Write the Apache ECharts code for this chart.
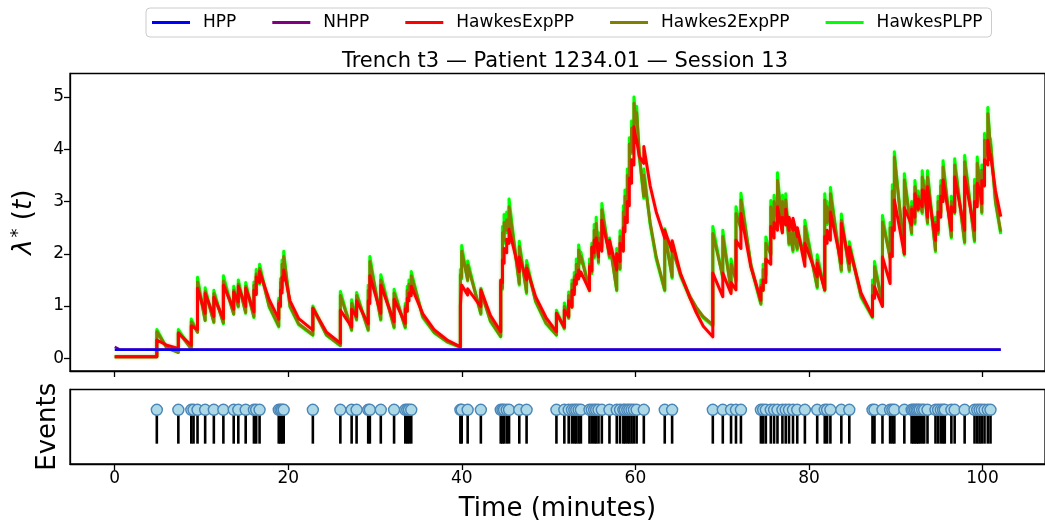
<!DOCTYPE html>
<html>
<head>
<meta charset="utf-8">
<script src="https://cdn.jsdelivr.net/npm/echarts@6/dist/echarts.min.js"></script>
<style>
  html, body { margin: 0; padding: 0; background: #ffffff; }
  #chart { width: 1045px; height: 527px; }
</style>
</head>
<body>
<div id="chart"></div>
<script>
// ---- data -------------------------------------------------------------
const seriesNames = ['HPP', 'NHPP', 'HawkesExpPP', 'Hawkes2ExpPP', 'HawkesPLPP'];
const timeTicks = [0, 20, 40, 60, 80, 100];
const lambdaTicks = [0, 1, 2, 3, 4, 5];

// event times (minutes)
const eventTimes = [
  4.85, 7.33, 8.82, 9.08, 9.54, 10.42, 11.42, 12.52, 13.71, 14.24, 15.09, 16.04, 16.30, 16.69,
  18.90, 19.10, 19.28, 19.47, 22.83, 26.00, 27.30, 27.87, 29.21, 29.40, 30.66, 32.19, 33.48,
  33.71, 33.91, 34.17, 39.83, 39.98, 40.67, 42.19, 44.48, 44.68, 44.87, 45.17, 45.44, 46.62,
  47.46, 50.90, 51.81, 52.31, 52.69, 52.96, 53.19, 53.46, 53.72, 54.71, 54.98, 55.25, 55.48,
  55.75, 56.13, 57.01, 57.85, 58.23, 58.61, 58.80, 59.07, 59.30, 59.56, 59.83, 60.14, 60.97,
  63.38, 64.23, 68.92, 70.07, 71.02, 71.59, 72.16, 74.46, 74.72, 75.03, 75.60, 75.98, 76.37,
  76.94, 77.32, 77.70, 78.16, 78.65, 79.53, 80.95, 81.82, 82.09, 82.47, 83.73, 84.65, 87.32,
  87.55, 88.47, 89.35, 89.61, 89.84, 90.99, 91.83, 92.02, 92.21, 92.40, 92.59, 92.78, 93.05,
  93.28, 93.66, 94.58, 94.88, 95.19, 95.45, 95.65, 96.41, 96.79, 97.94, 99.08, 99.39, 99.66,
  99.92, 100.23, 100.61, 100.92
];

// conditional intensity, [time, lambda*]
const hppPts = [[0, 0.165], [102.1, 0.165]];
const nhppPts = [[0, 0.22], [0.5, 0.175], [102.1, 0.168]];

const hawkesExpPts = [
  [0,0.03],[4.85,0.03],[4.85,0.35],[6.0,0.25],[7.33,0.19],[7.33,0.48],[8.82,0.25],[8.82,0.62],
  [9.54,0.55],[9.54,1.34],[10.42,0.86],[10.42,1.24],[11.42,0.80],[11.42,1.17],[12.52,0.76],[12.52,1.40],
  [13.71,0.94],[13.71,1.27],[14.24,1.08],[14.24,1.38],[15.09,0.99],[15.09,1.34],[16.04,0.89],[16.04,1.30],
  [16.30,1.22],[16.30,1.56],[16.69,1.45],[16.69,1.66],[17.8,1.12],[18.9,0.75],[18.9,1.05],[19.1,1.0],
  [19.1,1.3],[19.28,1.25],[19.28,1.55],[19.47,1.5],[19.47,1.69],[20.2,1.10],[21.2,0.76],[22.83,0.54],
  [22.83,0.96],[24.4,0.50],[26.0,0.29],[26.0,0.92],[27.3,0.60],[27.3,0.94],[27.87,0.80],[27.87,1.10],
  [29.21,0.66],[29.21,1.10],[29.4,1.05],[29.4,1.58],[30.66,0.86],[30.66,1.40],[32.19,0.70],[32.19,1.13],
  [33.48,0.67],[33.48,0.95],[33.71,0.90],[33.71,1.15],[33.91,1.10],[33.91,1.25],[34.17,1.20],[34.17,1.38],
  [35.5,0.85],[36.8,0.55],[38.3,0.35],[39.83,0.22],[39.83,1.0],[39.98,0.98],[39.98,1.40],[40.67,1.21],
  [40.67,1.33],[42.19,0.99],[42.19,1.31],[43.3,0.82],[44.48,0.51],[44.48,1.50],[44.68,1.45],[44.68,1.88],
  [44.87,1.82],[44.87,2.10],[45.17,2.02],[45.17,2.28],[45.44,2.2],[45.44,2.47],[46.62,1.66],[46.62,1.94],
  [47.46,1.50],[47.46,1.73],[48.5,1.18],[49.7,0.78],[50.9,0.51],[50.9,0.86],[51.81,0.60],[51.81,0.92],
  [52.31,0.80],[52.31,1.10],[52.69,0.98],[52.69,1.30],[52.96,1.22],[52.96,1.50],[53.19,1.42],[53.19,1.60],
  [53.46,1.52],[53.46,1.69],[53.72,1.58],[53.72,1.65],[54.71,1.30],[54.71,1.75],[54.98,1.68],[54.98,2.13],
  [55.25,2.02],[55.25,2.26],[55.48,2.15],[55.48,2.30],[55.75,1.94],[55.75,2.20],[56.13,2.05],[56.13,2.64],
  [57.01,2.0],[57.01,2.26],[57.85,1.69],[57.85,2.0],[58.23,1.85],[58.23,2.2],[58.61,2.05],[58.61,2.5],
  [58.80,2.42],[58.80,2.7],[59.07,2.6],[59.07,3.0],[59.30,2.92],[59.30,3.45],[59.56,3.35],[59.56,3.8],
  [59.83,3.7],[59.83,4.43],[60.14,4.12],[60.14,4.18],[60.45,3.86],[60.97,3.73],[60.97,4.05],[61.7,3.3],
  [62.4,2.8],[63.38,2.3],[63.38,2.45],[64.23,2.05],[64.23,2.25],[65.2,1.62],[66.3,1.15],[67.0,0.88],
  [67.8,0.62],[68.92,0.41],[68.92,1.63],[70.07,1.18],[70.07,1.63],[71.02,1.24],[71.02,1.45],[71.59,1.31],
  [71.59,2.26],[72.16,2.1],[72.16,2.77],[73.3,1.75],[74.46,1.11],[74.46,1.35],[74.72,1.3],[74.72,1.5],
  [75.03,1.45],[75.03,1.9],[75.60,1.8],[75.60,2.52],[75.98,2.3],[75.98,2.6],[76.37,2.45],[76.37,2.9],
  [76.94,2.4],[76.94,2.7],[77.32,2.55],[77.32,2.85],[77.70,2.45],[77.70,2.7],[78.16,2.45],[78.16,2.68],
  [78.65,2.33],[78.65,2.5],[79.53,1.76],[79.53,2.2],[80.95,1.56],[80.95,1.82],[81.82,1.31],[81.82,2.33],
  [82.09,2.2],[82.09,2.45],[82.47,2.26],[82.47,2.8],[83.73,1.82],[83.73,2.58],[84.65,1.82],[84.65,2.13],
  [86.0,1.25],[87.32,0.80],[87.32,1.2],[87.55,1.15],[87.55,1.37],[88.47,0.99],[88.47,1.94],[89.35,1.43],
  [89.35,2.0],[89.61,1.95],[89.61,2.5],[89.84,2.45],[89.84,3.03],[90.99,2.0],[90.99,2.88],[91.83,2.55],
  [91.83,2.85],[92.21,2.7],[92.21,3.15],[92.59,2.85],[92.59,3.05],[93.05,2.9],[93.05,3.22],[93.28,3.1],
  [93.28,3.2],[93.66,2.7],[93.66,3.28],[94.58,2.26],[94.58,2.55],[94.88,2.45],[94.88,2.8],[95.19,2.7],
  [95.19,3.1],[95.45,3.0],[95.45,3.41],[96.41,2.45],[96.41,2.9],[96.79,2.8],[96.79,3.47],[97.94,2.45],
  [97.94,3.47],[99.08,2.45],[99.08,3.0],[99.39,2.9],[99.39,3.35],[99.66,3.2],[99.66,3.25],[99.92,2.96],
  [99.92,3.4],[100.23,3.3],[100.23,3.8],[100.61,3.7],[100.61,4.17],[100.92,3.8],[100.92,3.9],[101.5,3.2],
  [102.1,2.71]
];

const hawkes2ExpPts = [
  [0,0.03],[4.85,0.03],[4.85,0.51],[6.0,0.2],[7.33,0.11],[7.33,0.50],[8.82,0.18],[8.82,0.70],
  [9.54,0.5],[9.54,1.46],[10.42,0.73],[10.42,1.28],[11.42,0.70],[11.42,1.24],[12.52,0.68],[12.52,1.48],
  [13.71,0.85],[13.71,1.30],[14.24,1.0],[14.24,1.42],[15.09,0.88],[15.09,1.38],[16.04,0.80],[16.04,1.40],
  [16.30,1.25],[16.30,1.62],[16.69,1.45],[16.69,1.72],[17.8,1.0],[18.9,0.62],[18.9,1.1],[19.1,1.0],
  [19.1,1.45],[19.28,1.35],[19.28,1.8],[19.47,1.7],[19.47,1.95],[20.2,1.0],[21.2,0.66],[22.83,0.45],
  [22.83,0.95],[24.4,0.45],[26.0,0.25],[26.0,1.2],[27.3,0.55],[27.3,1.05],[27.87,0.75],[27.87,1.2],
  [29.21,0.55],[29.21,1.3],[29.4,1.2],[29.4,1.85],[30.66,0.75],[30.66,1.5],[32.19,0.60],[32.19,1.25],
  [33.48,0.60],[33.48,1.0],[33.71,0.92],[33.71,1.3],[33.91,1.22],[33.91,1.42],[34.17,1.32],[34.17,1.58],
  [35.5,0.8],[36.8,0.5],[38.3,0.32],[39.83,0.22],[39.83,1.6],[39.98,1.55],[39.98,2.05],[40.67,1.50],
  [40.67,1.78],[42.19,0.86],[42.19,1.27],[43.3,0.72],[44.48,0.42],[44.48,1.4],[44.68,1.35],[44.68,2.4],
  [44.87,2.25],[44.87,2.6],[45.17,2.45],[45.17,2.65],[45.44,2.5],[45.44,2.9],[46.62,1.43],[46.62,2.14],
  [47.46,1.27],[47.46,1.78],[48.5,1.1],[49.7,0.68],[50.9,0.45],[50.9,0.86],[51.81,0.58],[51.81,0.99],
  [52.31,0.78],[52.31,1.2],[52.69,1.0],[52.69,1.42],[52.96,1.3],[52.96,1.56],[53.19,1.45],[53.19,1.8],
  [53.46,1.68],[53.46,2.07],[53.72,1.85],[53.72,1.95],[54.71,1.31],[54.71,1.8],[54.98,1.65],[54.98,2.1],
  [55.25,1.95],[55.25,2.45],[55.48,2.3],[55.48,2.58],[55.75,1.85],[55.75,2.3],[56.13,2.15],[56.13,2.84],
  [57.01,1.95],[57.01,2.2],[57.85,1.31],[57.85,2.0],[58.23,1.72],[58.23,2.33],[58.61,2.1],[58.61,2.8],
  [58.80,2.65],[58.80,3.1],[59.07,2.95],[59.07,3.5],[59.30,3.35],[59.30,4.1],[59.56,3.95],[59.56,4.4],
  [59.83,4.25],[59.83,4.88],[60.14,4.5],[60.14,4.7],[60.45,3.9],[60.97,3.1],[60.97,3.5],[61.7,2.6],
  [62.4,1.94],[63.38,1.31],[63.38,2.36],[64.23,1.56],[64.23,2.10],[65.2,1.6],[66.3,1.18],[67.0,0.98],
  [67.8,0.80],[68.92,0.64],[68.92,2.39],[70.07,1.56],[70.07,2.33],[71.02,1.31],[71.02,1.8],[71.59,1.5],
  [71.59,2.77],[72.16,2.5],[72.16,3.03],[73.3,1.8],[74.46,1.05],[74.46,1.4],[74.72,1.32],[74.72,1.7],
  [75.03,1.6],[75.03,2.2],[75.60,2.0],[75.60,2.9],[75.98,2.5],[75.98,3.0],[76.37,2.7],[76.37,3.4],
  [76.94,2.45],[76.94,3.0],[77.32,2.6],[77.32,3.03],[77.70,2.2],[77.70,2.5],[78.16,2.07],[78.16,2.4],
  [78.65,2.1],[78.65,2.38],[79.53,1.94],[79.53,2.52],[80.95,1.37],[80.95,1.88],[81.82,1.31],[81.82,3.03],
  [82.09,2.6],[82.09,2.9],[82.47,2.6],[82.47,3.15],[83.73,1.69],[83.73,2.64],[84.65,1.69],[84.65,2.13],
  [86.0,1.2],[87.32,0.80],[87.32,1.4],[87.55,1.3],[87.55,1.75],[88.47,1.05],[88.47,2.61],[89.35,1.94],
  [89.35,2.5],[89.61,2.35],[89.61,3.2],[89.84,3.05],[89.84,3.85],[90.99,2.0],[90.99,3.41],[91.83,2.4],
  [91.83,2.9],[92.21,2.6],[92.21,3.28],[92.59,2.85],[92.59,3.1],[93.05,2.8],[93.05,3.47],[93.28,3.2],
  [93.28,3.3],[93.66,2.6],[93.66,3.47],[94.58,2.07],[94.58,2.6],[94.88,2.4],[94.88,3.0],[95.19,2.8],
  [95.19,3.3],[95.45,3.1],[95.45,3.66],[96.41,2.33],[96.41,3.0],[96.79,2.8],[96.79,3.7],[97.94,2.23],
  [97.94,3.76],[99.08,2.26],[99.08,3.3],[99.39,3.0],[99.39,3.73],[99.66,3.4],[99.66,3.5],[99.92,2.8],
  [99.92,3.6],[100.23,3.4],[100.23,4.17],[100.61,3.9],[100.61,4.68],[100.92,4.0],[100.92,4.1],[101.5,3.0],
  [102.1,2.42]
];

const hawkesPLPts = [
  [0,0.03],[4.85,0.03],[4.85,0.55],[6.0,0.2],[7.33,0.12],[7.33,0.55],[8.82,0.18],[8.82,0.75],
  [9.54,0.5],[9.54,1.55],[10.42,0.72],[10.42,1.35],[11.42,0.68],[11.42,1.3],[12.52,0.66],[12.52,1.58],
  [13.71,0.84],[13.71,1.38],[14.24,0.98],[14.24,1.5],[15.09,0.86],[15.09,1.45],[16.04,0.78],[16.04,1.46],
  [16.30,1.22],[16.30,1.7],[16.69,1.42],[16.69,1.8],[17.8,0.98],[18.9,0.6],[18.9,1.15],[19.1,0.98],
  [19.1,1.52],[19.28,1.32],[19.28,1.88],[19.47,1.66],[19.47,2.05],[20.2,0.98],[21.2,0.64],[22.83,0.44],
  [22.83,1.0],[24.4,0.44],[26.0,0.24],[26.0,1.28],[27.3,0.53],[27.3,1.12],[27.87,0.73],[27.87,1.26],
  [29.21,0.53],[29.21,1.4],[29.4,1.18],[29.4,1.95],[30.66,0.73],[30.66,1.6],[32.19,0.58],[32.19,1.32],
  [33.48,0.58],[33.48,1.05],[33.71,0.9],[33.71,1.38],[33.91,1.2],[33.91,1.5],[34.17,1.3],[34.17,1.66],
  [35.5,0.78],[36.8,0.49],[38.3,0.31],[39.83,0.21],[39.83,1.7],[39.98,1.52],[39.98,2.16],[40.67,1.48],
  [40.67,1.86],[42.19,0.84],[42.19,1.34],[43.3,0.7],[44.48,0.41],[44.48,1.48],[44.68,1.32],[44.68,2.52],
  [44.87,2.2],[44.87,2.75],[45.17,2.4],[45.17,2.8],[45.44,2.45],[45.44,3.05],[46.62,1.4],[46.62,2.24],
  [47.46,1.24],[47.46,1.87],[48.5,1.08],[49.7,0.66],[50.9,0.44],[50.9,0.92],[51.81,0.56],[51.81,1.06],
  [52.31,0.76],[52.31,1.27],[52.69,0.98],[52.69,1.5],[52.96,1.28],[52.96,1.64],[53.19,1.42],[53.19,1.9],
  [53.46,1.65],[53.46,2.17],[53.72,1.82],[53.72,2.03],[54.71,1.29],[54.71,1.9],[54.98,1.62],[54.98,2.2],
  [55.25,1.92],[55.25,2.56],[55.48,2.26],[55.48,2.7],[55.75,1.82],[55.75,2.4],[56.13,2.12],[56.13,2.96],
  [57.01,1.92],[57.01,2.3],[57.85,1.29],[57.85,2.1],[58.23,1.7],[58.23,2.44],[58.61,2.07],[58.61,2.92],
  [58.80,2.62],[58.80,3.22],[59.07,2.92],[59.07,3.62],[59.30,3.32],[59.30,4.22],[59.56,3.92],[59.56,4.54],
  [59.83,4.2],[59.83,5.0],[60.14,4.45],[60.14,4.82],[60.45,3.86],[60.97,3.06],[60.97,3.62],[61.7,2.56],
  [62.4,1.9],[63.38,1.29],[63.38,2.48],[64.23,1.53],[64.23,2.22],[65.2,1.57],[66.3,1.15],[67.0,0.96],
  [67.8,0.78],[68.92,0.62],[68.92,2.52],[70.07,1.53],[70.07,2.45],[71.02,1.29],[71.02,1.9],[71.59,1.47],
  [71.59,2.9],[72.16,2.46],[72.16,3.16],[73.3,1.77],[74.46,1.03],[74.46,1.5],[74.72,1.3],[74.72,1.8],
  [75.03,1.58],[75.03,2.32],[75.60,1.97],[75.60,3.02],[75.98,2.47],[75.98,3.12],[76.37,2.66],[76.37,3.55],
  [76.94,2.42],[76.94,3.12],[77.32,2.56],[77.32,3.15],[77.70,2.17],[77.70,2.6],[78.16,2.04],[78.16,2.5],
  [78.65,2.07],[78.65,2.48],[79.53,1.91],[79.53,2.64],[80.95,1.34],[80.95,1.98],[81.82,1.29],[81.82,3.15],
  [82.09,2.56],[82.09,3.0],[82.47,2.56],[82.47,3.27],[83.73,1.66],[83.73,2.76],[84.65,1.66],[84.65,2.23],
  [86.0,1.17],[87.32,0.78],[87.32,1.5],[87.55,1.27],[87.55,1.85],[88.47,1.03],[88.47,2.73],[89.35,1.91],
  [89.35,2.6],[89.61,2.32],[89.61,3.32],[89.84,3.0],[89.84,3.95],[90.99,1.97],[90.99,3.53],[91.83,2.37],
  [91.83,3.0],[92.21,2.57],[92.21,3.4],[92.59,2.82],[92.59,3.2],[93.05,2.77],[93.05,3.59],[93.28,3.17],
  [93.28,3.4],[93.66,2.57],[93.66,3.59],[94.58,2.04],[94.58,2.7],[94.88,2.37],[94.88,3.1],[95.19,2.77],
  [95.19,3.4],[95.45,3.07],[95.45,3.78],[96.41,2.3],[96.41,3.1],[96.79,2.77],[96.79,3.82],[97.94,2.2],
  [97.94,3.88],[99.08,2.23],[99.08,3.42],[99.39,2.97],[99.39,3.85],[99.66,3.37],[99.66,3.6],[99.92,2.77],
  [99.92,3.7],[100.23,3.37],[100.23,4.3],[100.61,3.87],[100.61,4.8],[100.92,3.97],[100.92,4.2],[101.5,2.97],
  [102.1,2.38]
];

// ---- chart ------------------------------------------------------------
const FONT = 'DejaVu Sans';
const BLACK = '#000000';
const SPINE = { show: true, onZero: false, lineStyle: { color: BLACK, width: 1.3 } };

function curve(name, pts, color, width, z, glow) {
  return {
    name: name,
    type: 'line',
    xAxisIndex: 0,
    yAxisIndex: 0,
    data: pts,
    showSymbol: false,
    symbol: 'none',
    z: z,
    itemStyle: { color: color },
    lineStyle: Object.assign({ color: color, width: width, join: 'round' },
      glow ? { shadowColor: glow, shadowBlur: 3 } : {}),
    emphasis: { disabled: true }
  };
}

const chart = echarts.init(document.getElementById('chart'), null, { renderer: 'canvas' });

const option = {
  animation: false,
  backgroundColor: '#ffffff',
  textStyle: { fontFamily: FONT },
  title: {
    text: 'Trench t3 \u2014 Patient 1234.01 \u2014 Session 13',
    left: 560,
    textAlign: 'center',
    top: 46,
    textStyle: { fontFamily: FONT, fontSize: 21, fontWeight: 'normal', color: BLACK }
  },
  legend: {
    data: seriesNames,
    left: 146,
    top: 8,
    icon: 'rect',
    itemWidth: 38,
    itemHeight: 3,
    itemGap: 36,
    padding: [6, 9, 6, 6],
    borderColor: '#cccccc',
    borderWidth: 1,
    borderRadius: 4,
    backgroundColor: '#ffffff',
    textStyle: { fontFamily: FONT, fontSize: 17, color: BLACK, padding: [0, 0, 0, 8] }
  },
  grid: [
    { left: 70, top: 73.5, width: 981, height: 297.5, show: true, borderColor: BLACK, borderWidth: 1.3 },
    { left: 70, top: 389.5, width: 981, height: 74.5, show: true, borderColor: BLACK, borderWidth: 1.3 }
  ],
  xAxis: [
    {
      gridIndex: 0, type: 'value', min: -5.155, max: 107.2,
      axisLine: SPINE,
      axisTick: { show: true, length: 6, customValues: timeTicks, lineStyle: { color: BLACK, width: 1.3 } },
      axisLabel: { show: false },
      splitLine: { show: false }
    },
    {
      gridIndex: 1, type: 'value', min: -5.155, max: 107.2,
      axisLine: SPINE,
      axisTick: { show: true, length: 6, customValues: timeTicks, lineStyle: { color: BLACK, width: 1.3 } },
      axisLabel: { show: true, customValues: timeTicks, margin: 6, fontFamily: FONT, fontSize: 17, color: BLACK },
      splitLine: { show: false },
      name: 'Time (minutes)',
      nameLocation: 'middle',
      nameGap: 32,
      nameTextStyle: { fontFamily: FONT, fontSize: 26, color: BLACK }
    }
  ],
  yAxis: [
    {
      gridIndex: 0, type: 'value', min: -0.243, max: 5.449,
      axisLine: SPINE,
      axisTick: { show: true, length: 6, customValues: lambdaTicks, lineStyle: { color: BLACK, width: 1.3 } },
      axisLabel: { show: true, customValues: lambdaTicks, margin: 6, fontFamily: FONT, fontSize: 17, color: BLACK },
      splitLine: { show: false },
      name: '{g|\u03bb}{s|*}{p| (}{i|t}{p|)}',
      nameLocation: 'middle',
      nameRotate: 90,
      nameGap: 31,
      nameTextStyle: {
        fontFamily: FONT, fontSize: 26, color: BLACK,
        rich: {
          g: { fontFamily: FONT, fontSize: 26, fontStyle: 'italic', color: BLACK },
          s: { fontFamily: FONT, fontSize: 18, color: BLACK, verticalAlign: 'top', padding: [0, 0, 12, 2] },
          p: { fontFamily: FONT, fontSize: 26, color: BLACK },
          i: { fontFamily: FONT, fontSize: 26, fontStyle: 'italic', color: BLACK }
        }
      }
    },
    {
      gridIndex: 1, type: 'value', min: -0.6, max: 1.6,
      axisLine: SPINE,
      axisTick: { show: false },
      axisLabel: { show: false },
      splitLine: { show: false },
      name: 'Events',
      nameLocation: 'middle',
      nameRotate: 90,
      nameGap: 9,
      nameTextStyle: { fontFamily: FONT, fontSize: 26, color: BLACK }
    }
  ],
  series: [
    curve('HawkesPLPP', hawkesPLPts, '#00ff00', 3, 2, 'rgba(0,255,0,0.35)'),
    curve('Hawkes2ExpPP', hawkes2ExpPts, '#808000', 3, 3, null),
    curve('HawkesExpPP', hawkesExpPts, '#ff0000', 3, 4, 'rgba(255,0,0,0.25)'),
    curve('NHPP', nhppPts, '#800080', 2.5, 5, null),
    curve('HPP', hppPts, '#0000ff', 2.5, 6, null),
    {
      name: 'eventStems',
      type: 'custom',
      xAxisIndex: 1,
      yAxisIndex: 1,
      data: eventTimes.map(function (t) { return [t, 1]; }),
      z: 2,
      renderItem: function (params, api) {
        const base = api.coord([api.value(0), 0]);
        const head = api.coord([api.value(0), api.value(1)]);
        return {
          type: 'line',
          shape: { x1: base[0], y1: base[1], x2: head[0], y2: head[1] },
          style: { stroke: BLACK, lineWidth: 2.6 }
        };
      }
    },
    {
      name: 'eventMarkers',
      type: 'scatter',
      xAxisIndex: 1,
      yAxisIndex: 1,
      data: eventTimes.map(function (t) { return [t, 1]; }),
      symbol: 'circle',
      symbolSize: 11,
      z: 3,
      itemStyle: { color: '#add8e6', borderColor: '#4a86b8', borderWidth: 1.4, opacity: 1 },
      emphasis: { disabled: true }
    }
  ]
};

chart.setOption(option);
</script>
</body>
</html>
